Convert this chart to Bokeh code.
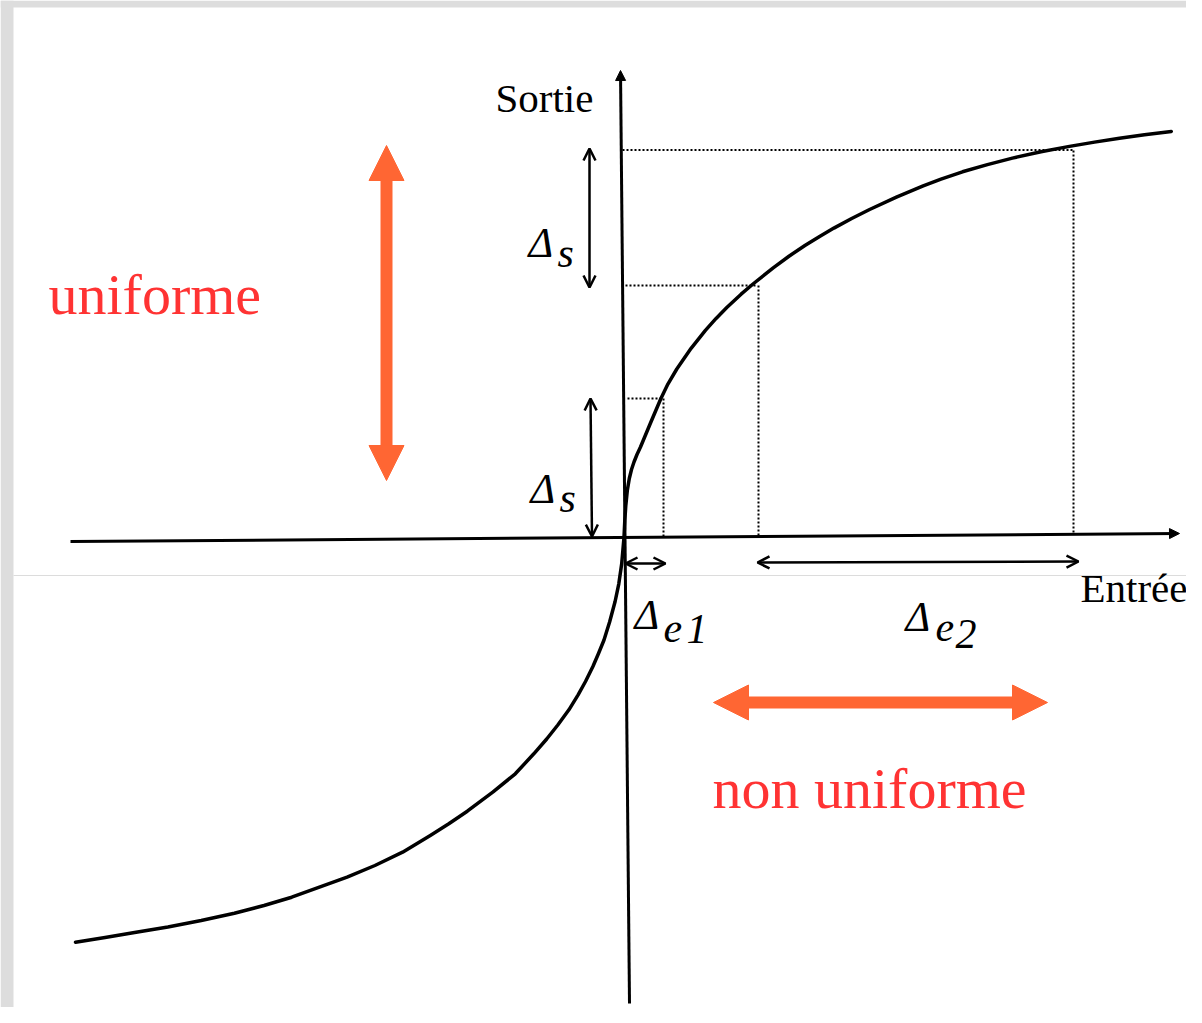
from bokeh.plotting import figure
from bokeh.models import Range1d, Arrow, OpenHead, NormalHead, ColumnDataSource
from bokeh.core.properties import value
from bokeh.embed import file_html
from bokeh.resources import INLINE

# ---- data (picture coordinates: x to the right, y downward) ----
# compression curve Sortie = f(Entrée)
curve_x = [75, 104.6, 134.1, 167.4, 200.7, 233.9, 263.5, 291.2, 318.9, 346.6,
           374.4, 402.1, 429.8, 448.3, 466.8, 492.6, 514.8, 533.3, 546.2, 557.3,
           568.4, 577.6, 585, 592.4, 598, 603.5, 609.1, 614.6, 618.3, 621.2, 623.5,
           624.3, 625.3, 626.8, 628.8, 631, 633.5, 636.5, 640, 650, 660.3,
           667.4, 676.3, 690.6, 704.9, 715.6, 726.3, 740.6, 753.1, 772.7, 788.8,
           804.8, 819.1, 833.4, 851.2, 869.1, 895.9, 922.7, 940.5, 962, 986.9,
           1011.9, 1040.5, 1069, 1094, 1119, 1144, 1170.8]
curve_y = [941.7, 937, 932, 926.5, 920, 912.7, 905, 896.7, 886.7, 876.7,
           865, 851.7, 835, 823.3, 810.7, 791.4, 773.3, 753.3, 738.5, 724.5,
           709.3, 694.3, 681, 666, 653, 639.5, 621.5, 601, 583.3, 563.3, 537,
           520, 505, 490, 478, 469, 461.5, 454, 446.5, 422.5, 398.3,
           383.6, 368.5, 347.8, 329.9, 317.9, 307, 293.7, 283, 267.3, 255.5,
           244.8, 235.9, 227.6, 218, 209, 196.7, 185.4, 178.6, 171.3, 164.1,
           157.6, 151.3, 145.9, 141.6, 137.7, 134.2, 130.9]

# axes (Entrée horizontal, Sortie vertical)
axis_x0 = [70, 629]
axis_y0 = [541, 1003]
axis_x1 = [1179, 620]
axis_y1 = [533, 70]

# dotted guides
guide_h_x0 = [627, 625, 622]
guide_h_x1 = [662, 757, 1072]
guide_h_y = [398, 285, 149.5]
guide_v_x = [663, 758, 1073]
guide_v_y0 = [398, 285, 150]
guide_v_y1 = [537, 536, 534]

# black double arrows: Δs (upper), Δs (lower), Δe1, Δe2
delta_x0 = [589, 590, 625, 757]
delta_y0 = [148, 398, 563, 562]
delta_x1 = [589, 591.5, 665, 1078]
delta_y1 = [287, 536, 563, 561]

# orange double arrows (uniforme / non uniforme)
big_x0 = [386, 713]
big_y0 = [145, 702]
big_x1 = [386, 1047]
big_y1 = [480, 702]

# labels
axis_labels = ["Sortie", "Entrée"]
axis_label_x = [495, 1080]
axis_label_y = [97, 587]

red_labels = ["uniforme", "non uniforme"]
red_label_x = [48, 712]
red_label_y = [294, 788]

delta_sym = ["Δ", "Δ", "Δ", "Δ"]
delta_sym_x = [528, 530, 634, 905]
delta_sym_y = [242, 488, 614, 616]
delta_sub = ["s", "s", "e", "1", "e", "2"]
delta_sub_x = [557, 559, 663, 686, 935, 955]
delta_sub_y = [252, 497, 627, 628, 626, 633]

# slide background artefacts (grey frame edges and faint rule)
frame_left = [0, 0]
frame_right = [13, 1186]
frame_top = [0, 0]
frame_bottom = [1007, 7]
rule_x = [13, 1186]
rule_y = [575, 575]

W, H = 1186, 1007
p = figure(width=W, height=H, output_backend="svg", toolbar_location=None,
           x_range=Range1d(0, W), y_range=Range1d(H, 0),
           x_axis_type=None, y_axis_type=None, title=None,
           min_border=0, outline_line_color=None)
p.grid.visible = False
p.background_fill_color = "white"
p.border_fill_color = "white"

p.quad(left=frame_left, right=frame_right, top=frame_top, bottom=frame_bottom,
       fill_color="#dddddd", line_color=None)
p.line(rule_x, rule_y, line_color="#dcdcdc", line_width=1)

# dotted guides
p.segment(x0=guide_h_x0, y0=guide_h_y, x1=guide_h_x1, y1=guide_h_y,
          line_color="black", line_width=2, line_dash="2 2")
p.segment(x0=guide_v_x, y0=guide_v_y0, x1=guide_v_x, y1=guide_v_y1,
          line_color="black", line_width=2, line_dash="2 2")

# axes with arrow heads
p.add_layout(Arrow(end=NormalHead(size=10, fill_color="black", line_color="black"),
                   x_start="x0", y_start="y0", x_end="x1", y_end="y1",
                   line_width=3, line_color="black",
                   source=ColumnDataSource(dict(x0=axis_x0, y0=axis_y0, x1=axis_x1, y1=axis_y1))))

# curve
p.line(curve_x, curve_y, line_color="black", line_width=3.5, line_join="round", line_cap="round")

# small black double arrows
p.add_layout(Arrow(start=OpenHead(size=12, line_width=2.5, line_color="black"),
                   end=OpenHead(size=12, line_width=2.5, line_color="black"),
                   x_start="x0", y_start="y0", x_end="x1", y_end="y1",
                   line_width=2.5, line_color="black",
                   source=ColumnDataSource(dict(x0=delta_x0, y0=delta_y0, x1=delta_x1, y1=delta_y1))))

# orange double arrows
orange = "#ff6633"
p.add_layout(Arrow(start=NormalHead(size=35, fill_color=orange, line_color=orange, line_width=1),
                   end=NormalHead(size=35, fill_color=orange, line_color=orange, line_width=1),
                   x_start="x0", y_start="y0", x_end="x1", y_end="y1",
                   line_width=12, line_color=orange,
                   source=ColumnDataSource(dict(x0=big_x0, y0=big_y0, x1=big_x1, y1=big_y1))))

serif = value("Liberation Serif")
p.text(x=axis_label_x, y=axis_label_y, text=axis_labels, text_font=serif,
       text_font_size="41px", text_color="black", text_baseline="alphabetic", text_align="left")
p.text(x=red_label_x, y=red_label_y, text=red_labels, text_font=serif,
       text_font_size="58px", text_color="#ff3333", text_baseline="alphabetic", text_align="left")
p.text(x=delta_sym_x, y=delta_sym_y, text=delta_sym, text_font=serif, text_font_style="italic",
       text_font_size="42px", text_color="black", text_baseline="alphabetic", text_align="left")
p.text(x=delta_sub_x, y=delta_sub_y, text=delta_sub, text_font=serif, text_font_style="italic",
       text_font_size="42px", text_color="black", text_baseline="alphabetic", text_align="left")

open("out.html", "w").write(file_html(p, INLINE))
